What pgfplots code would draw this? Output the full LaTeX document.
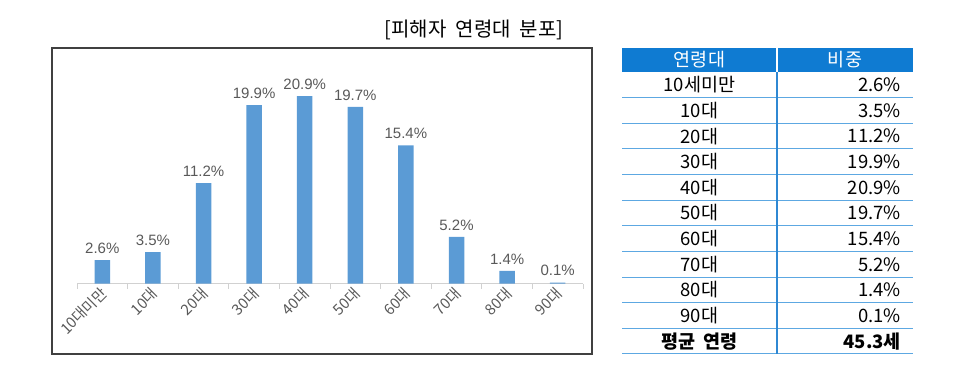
\documentclass[border=0pt]{standalone}
\usepackage{pgfplots}
\pgfplotsset{compat=1.18}
\usepackage{fontspec}
\setmainfont{Noto Sans CJK KR}
\newfontfamily\lib{Liberation Sans}
\definecolor{barblue}{HTML}{5B9BD5}
\definecolor{lblgray}{HTML}{595959}
\definecolor{hdrblue}{HTML}{0F7BD2}
\definecolor{lineblue}{HTML}{5DA8E2}
\definecolor{divblue}{HTML}{2F88D3}
\begin{document}
\begin{tikzpicture}
\path (0pt,0pt) rectangle (972pt,384pt);
% title
\node[font=\fontsize{20}{24}\selectfont, anchor=center, inner sep=0pt] at (474pt,354.5pt) {[피해자\ \ 연령대\ \ 분포]};
% chart box
\draw[color=black!75, line width=1.2pt] (52pt,336pt) rectangle (592pt,30pt);
\begin{axis}[
  at={(77pt,100.5pt)}, anchor=south west,
  scale only axis, width=506pt, height=224.25pt,
  xmin=-0.5, xmax=9.5, ymin=0, ymax=25,
  hide y axis,
  axis x line*=bottom,
  x axis line style={-, draw=black!18, line width=0.8pt},
  xtick={0,...,9},
  xticklabels={10대미만,10대,20대,30대,40대,50대,60대,70대,80대,90대},
  major tick length=0pt,
  minor xtick={-0.5,0.5,...,9.5},
  minor tick length=5pt,
  tick align=outside,
  minor tick style={draw=black!18, line width=0.8pt},
  xticklabel style={xshift=-3pt, yshift=-2pt, rotate=45, anchor=north east, inner sep=0pt, font=\fontsize{15}{16}\selectfont, text=lblgray},
  ybar, bar width=15.5pt,
  /pgf/number format/assume math mode=true,
  nodes near coords={\pgfmathprintnumber[fixed,fixed zerofill,precision=1]{\pgfplotspointmeta}\%},
  every node near coord/.append style={font=\lib\fontsize{15}{16}\selectfont, text=lblgray, yshift=3pt},
  clip=false,
]
\addplot[fill=barblue, draw=none] coordinates {(0,2.6) (1,3.5) (2,11.2) (3,19.9) (4,20.9) (5,19.7) (6,15.4) (7,5.2) (8,1.4) (9,0.1)};
\end{axis}
% table
\begin{scope}[x=1pt,y=1pt]
\fill[hdrblue] (622,336) rectangle (776.3,312);
\fill[hdrblue] (777.7,336) rectangle (913,312);
\foreach \k in {1,...,11} {
  \draw[lineblue, line width=1pt] (622,{312-\k*25.636}) -- (913,{312-\k*25.636});
}
\draw[divblue, line width=1.2pt] (777,312) -- (777,30);
\begin{scope}[every node/.style={font=\fontsize{18.5}{20}\selectfont, inner sep=0pt}]
\node[text=white] at (699.5,324) {연령대};
\node[text=white] at (845,324) {비중};
\foreach \lab/\val [count=\i from 0] in {10세미만/2.6\%,10대/3.5\%,20대/11.2\%,30대/19.9\%,40대/20.9\%,50대/19.7\%,60대/15.4\%,70대/5.2\%,80대/1.4\%,90대/0.1\%} {
  \node at (699.5,{312-(\i+0.5)*25.636}) {\lab};
  \node[anchor=east] at (901,{312-(\i+0.5)*25.636}) {\val};
}
\node[font=\fontsize{18.5}{20}\selectfont\bfseries] at (699.5,{312-10.5*25.636}) {평균\ \ 연령};
\node[anchor=east, font=\fontsize{18.5}{20}\selectfont\bfseries] at (901,{312-10.5*25.636}) {45.3세};
\end{scope}
\end{scope}
\end{tikzpicture}
\end{document}
